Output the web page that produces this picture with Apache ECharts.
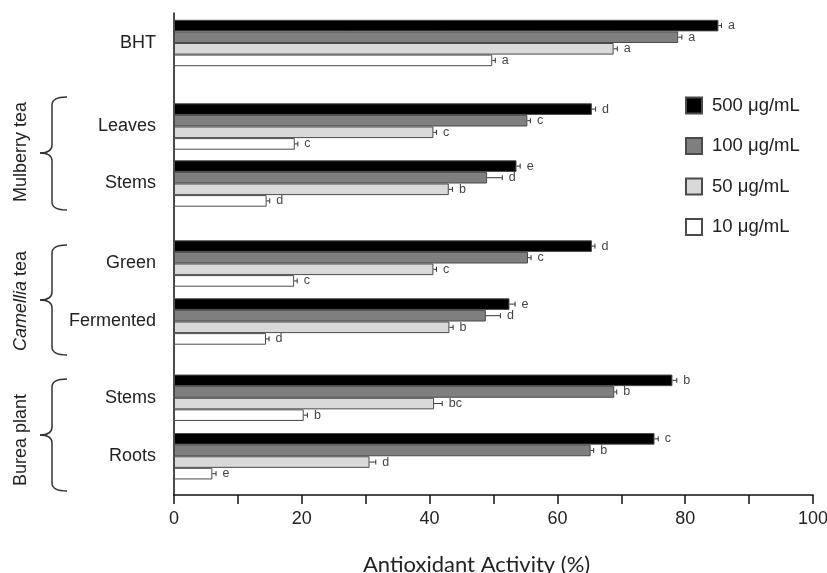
<!DOCTYPE html>
<html><head><meta charset="utf-8">
<script src="https://cdn.jsdelivr.net/npm/echarts@6/dist/echarts.min.js"></script>
<style>html,body{margin:0;padding:0;background:#fff}#c{width:827px;height:573px}</style>
</head><body><div id="c"></div>
<script>
// ---- data ----
const samples = ['BHT', 'Leaves', 'Stems', 'Green', 'Fermented', 'Stems', 'Roots'];
const sampleFamily = [0, 1, 1, 2, 2, 3, 3];
const families = ['', 'Mulberry tea', 'Camellia tea', 'Burea plant'];
const concentrations = ['500 μg/mL', '100 μg/mL', '50 μg/mL', '10 μg/mL'];
const act500 = [85.2, 65.4, 53.6, 65.4, 52.5, 78.0, 75.2];
const act100 = [78.9, 55.3, 49.0, 55.4, 48.8, 68.9, 65.2];
const act50  = [68.8, 40.6, 43.0, 40.6, 43.1, 40.7, 30.6];
const act10  = [49.8, 18.9, 14.5, 18.8, 14.4, 20.3, 6.0];
const err500 = [0.4, 0.5, 0.5, 0.4, 0.8, 0.6, 0.5];
const err100 = [0.5, 0.4, 2.3, 0.4, 2.2, 0.3, 0.4];
const err50  = [0.5, 0.4, 0.5, 0.4, 0.5, 1.2, 0.9];
const err10  = [0.4, 0.4, 0.4, 0.4, 0.4, 0.5, 0.5];
const let500 = ['a', 'd', 'e', 'd', 'e', 'b', 'c'];
const let100 = ['a', 'c', 'd', 'c', 'd', 'b', 'b'];
const let50  = ['a', 'c', 'b', 'c', 'b', 'bc', 'd'];
const let10  = ['a', 'c', 'd', 'c', 'd', 'b', 'e'];
const xTickLabels = [0, 20, 40, 60, 80, 100];

const seriesValues = [act500, act100, act50, act10];
const seriesErrors = [err500, err100, err50, err10];
const seriesLetters = [let500, let100, let50, let10];

// ---- style / layout ----
const FONT = '"Liberation Sans", Arial, Helvetica, sans-serif';
const colors = ['#000000', '#7f7f7f', '#d9d9d9', '#ffffff'];
const BW = 11.6;
const gridBoxes = [
  { top: 14, height: 58 },
  { top: 98, height: 114 },
  { top: 234.5, height: 116 },
  { top: 368.5, height: 117 }
];

const chart = echarts.init(document.getElementById('c'), null, { renderer: 'canvas' });

const grid = [{ left: 174, right: 14, top: 13, bottom: 78, outerBoundsMode: 'none', containLabel: false }];
gridBoxes.forEach(g => grid.push({ left: 174, right: 14, top: g.top, height: g.height, outerBoundsMode: 'none', containLabel: false }));

const xAxis = [{
  gridIndex: 0, type: 'value', min: 0, max: 100, interval: 10,
  axisLine: { show: true, lineStyle: { color: '#111', width: 1.5 } },
  axisTick: { show: true, length: 9, lineStyle: { color: '#111', width: 1.5 } },
  splitLine: { show: false },
  axisLabel: { fontSize: 18, color: '#222', fontFamily: FONT, margin: 15, hideOverlap: false,
    formatter: v => (xTickLabels.includes(v) ? String(v) : '') }
}];
const yAxis = [{
  gridIndex: 0, type: 'value', min: 0, max: 1,
  axisLine: { show: true, lineStyle: { color: '#111', width: 1.5 } },
  axisTick: { show: false }, axisLabel: { show: false }, splitLine: { show: false }
}];

const series = [];
gridBoxes.forEach((g, fi) => {
  const gi = fi + 1;
  const idx = samples.map((s, j) => j).filter(j => sampleFamily[j] === fi);
  xAxis.push({ gridIndex: gi, type: 'value', min: 0, max: 100, show: false });
  yAxis.push({
    gridIndex: gi, type: 'category', inverse: true, data: idx.map(j => samples[j]),
    axisLine: { show: false }, axisTick: { show: false }, splitLine: { show: false },
    axisLabel: { fontSize: 18, color: '#222', fontFamily: FONT, margin: 18 }
  });
  concentrations.forEach((name, k) => {
    series.push({
      type: 'bar', name: name, xAxisIndex: gi, yAxisIndex: gi,
      barWidth: BW, barGap: '0%',
      itemStyle: { color: colors[k], borderColor: '#4a4a4a', borderWidth: 1 },
      data: idx.map(j => seriesValues[k][j])
    });
  });
  const items = [];
  idx.forEach((j, li) => {
    concentrations.forEach((name, k) => {
      items.push({ value: [seriesValues[k][j], li, k, seriesErrors[k][j]], letter: seriesLetters[k][j] });
    });
  });
  series.push({
    type: 'custom', name: 'err' + fi, xAxisIndex: gi, yAxisIndex: gi, z: 5,
    encode: { x: 0, y: 1 },
    data: items,
    renderItem: function (params, api) {
      const v = api.value(0), ci = api.value(1), k = api.value(2), e = api.value(3);
      const p0 = api.coord([v, ci]);
      const p1 = api.coord([v + e, ci]);
      const y = p0[1] + (k - 1.5) * BW;
      const letter = items[params.dataIndex].letter;
      return {
        type: 'group', children: [
          { type: 'line', shape: { x1: p0[0], y1: y, x2: p1[0] + 0.5, y2: y }, style: { stroke: '#333', lineWidth: 1 } },
          { type: 'line', shape: { x1: p1[0] + 0.5, y1: y - 2.5, x2: p1[0] + 0.5, y2: y + 2.5 }, style: { stroke: '#333', lineWidth: 1 } },
          { type: 'text', x: p1[0] + 7, y: y, style: { text: letter, fontSize: 12.5, fontFamily: FONT, fill: '#444', align: 'left', verticalAlign: 'middle' } }
        ]
      };
    }
  });
});

const braceStyle = { stroke: '#333', lineWidth: 1.5, fill: null };
function brace(top, tip, bottom) {
  const xs = 52, xe = 67, xt = 40, r = 8;
  return [
    { type: 'bezierCurve', shape: { x1: xe, y1: top, cpx1: xs, cpy1: top, x2: xs, y2: top + r }, style: braceStyle },
    { type: 'line', shape: { x1: xs, y1: top + r, x2: xs, y2: tip - r }, style: braceStyle },
    { type: 'bezierCurve', shape: { x1: xs, y1: tip - r, cpx1: xs, cpy1: tip, x2: xt, y2: tip }, style: braceStyle },
    { type: 'bezierCurve', shape: { x1: xt, y1: tip, cpx1: xs, cpy1: tip, x2: xs, y2: tip + r }, style: braceStyle },
    { type: 'line', shape: { x1: xs, y1: tip + r, x2: xs, y2: bottom - r }, style: braceStyle },
    { type: 'bezierCurve', shape: { x1: xs, y1: bottom - r, cpx1: xs, cpy1: bottom, x2: xe, y2: bottom }, style: braceStyle }
  ];
}
const famStyle = { fontSize: 18, fontFamily: FONT, fill: '#222', align: 'center', verticalAlign: 'middle' };

const graphics = [].concat(
  brace(97, 153, 210), brace(245, 300, 355), brace(379, 435, 491),
  [
    { type: 'text', x: 21, y: 152, rotation: Math.PI / 2, style: Object.assign({ text: families[1] }, famStyle) },
    { type: 'text', x: 21, y: 301, rotation: Math.PI / 2,
      style: Object.assign({ text: '{i|Camellia} tea', rich: { i: { fontStyle: 'italic', fontSize: 18, fontFamily: FONT, fill: '#222' } } }, famStyle) },
    { type: 'text', x: 21, y: 440, rotation: Math.PI / 2, style: Object.assign({ text: families[3] }, famStyle) }
  ]
);

chart.setOption({
  animation: false,
  backgroundColor: '#ffffff',
  title: {
    text: 'Antioxidant Activity (%)', left: 363, top: 554, padding: 0,
    textStyle: { fontSize: 22, fontWeight: 'normal', fontFamily: 'Lato, "Open Sans", sans-serif', color: '#222' }
  },
  legend: {
    orient: 'vertical', left: 685, top: 96, itemWidth: 16, itemHeight: 16, itemGap: 21.5,
    icon: 'rect', selectedMode: false, data: concentrations, padding: 0,
    textStyle: { fontSize: 18.5, color: '#222', fontFamily: FONT, padding: [0, 0, 0, 5] }
  },
  grid: grid, xAxis: xAxis, yAxis: yAxis, series: series,
  graphic: graphics
});
</script>
</body></html>
